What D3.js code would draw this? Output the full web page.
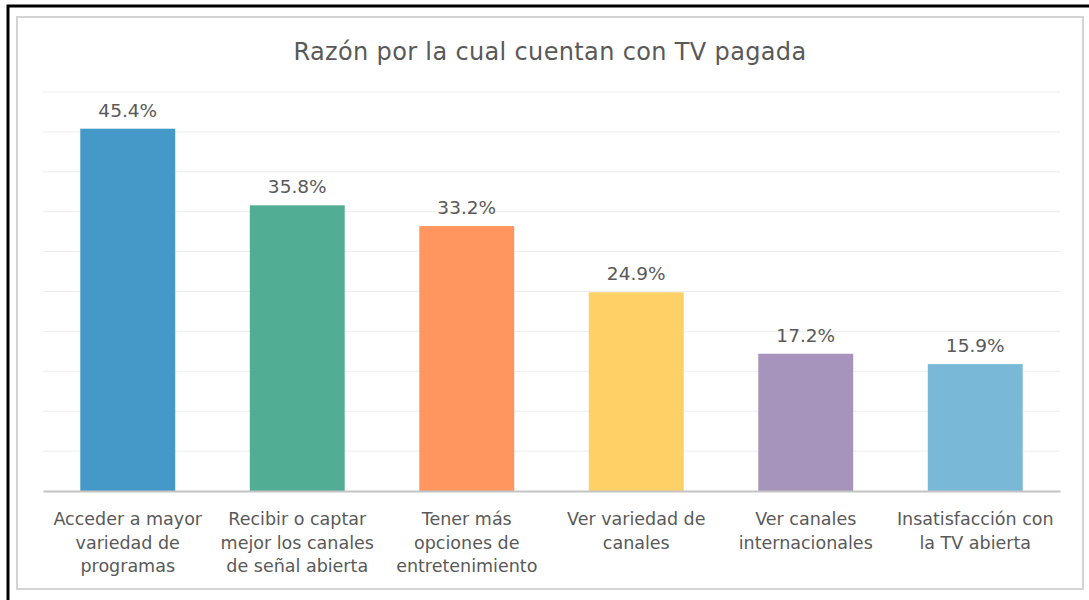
<!DOCTYPE html>
<html>
<head>
<meta charset="utf-8">
<script src="https://cdn.jsdelivr.net/npm/d3@7"></script>
<style>
  body { margin: 0; background: #fff; }
  svg { display: block; }
</style>
</head>
<body>
<div id="chart"></div>
<script>
// data
const categories = [
  ["Acceder a mayor", "variedad de", "programas"],
  ["Recibir o captar", "mejor los canales", "de señal abierta"],
  ["Tener más", "opciones de", "entretenimiento"],
  ["Ver variedad de", "canales"],
  ["Ver canales", "internacionales"],
  ["Insatisfacción con", "la TV abierta"]
];
const values = [45.4, 35.8, 33.2, 24.9, 17.2, 15.9];
const barColors = ["#4499C9", "#52AD95", "#FF9660", "#FDD166", "#A794BC", "#7AB8D8"];
const yTicks = [0, 5, 10, 15, 20, 25, 30, 35, 40, 45, 50];
const title = "Razón por la cual cuentan con TV pagada";

const width = 1089, height = 600;
const plot = { left: 43, right: 1060, top: 92, bottom: 491 };
const fontFam = "'DejaVu Sans', sans-serif";
const textColor = "#595959";

const svg = d3.select("#chart").append("svg")
  .attr("width", width)
  .attr("height", height);

// outer frames
svg.append("path")
  .attr("d", `M8,${height} V6 H${width}`)
  .attr("fill", "none")
  .attr("stroke", "#000")
  .attr("stroke-width", 3);

svg.append("rect")
  .attr("x", 17).attr("y", 17)
  .attr("width", 1066).attr("height", 572)
  .attr("fill", "#fff")
  .attr("stroke", "#D4D4D4")
  .attr("stroke-width", 2);

// scales
const idx = d3.range(values.length);
const xScale = d3.scaleBand()
  .domain(idx)
  .range([plot.left, plot.right])
  .paddingInner(0.44)
  .paddingOuter(0.22);

const yScale = d3.scaleLinear()
  .domain([0, 50])
  .range([plot.bottom, plot.top]);

// gridlines
svg.append("g")
  .selectAll("line")
  .data(yTicks.slice(1))
  .join("line")
  .attr("x1", plot.left).attr("x2", plot.right)
  .attr("y1", d => yScale(d)).attr("y2", d => yScale(d))
  .attr("stroke", "#EDEDED")
  .attr("stroke-width", 1);

// bars
svg.append("g")
  .selectAll("rect")
  .data(idx)
  .join("rect")
  .attr("x", i => xScale(i))
  .attr("y", i => yScale(values[i]))
  .attr("width", xScale.bandwidth())
  .attr("height", i => yScale(0) - yScale(values[i]))
  .attr("fill", i => barColors[i]);

// baseline axis
const xAxis = svg.append("g")
  .attr("transform", `translate(0,${plot.bottom})`)
  .call(d3.axisBottom(xScale).tickSize(0).tickFormat(""));
xAxis.select(".domain")
  .attr("stroke", "#C4C4C4")
  .attr("stroke-width", 2);

// value labels
svg.append("g")
  .selectAll("text")
  .data(idx)
  .join("text")
  .attr("x", i => xScale(i) + xScale.bandwidth() / 2)
  .attr("y", i => yScale(values[i]) - 12)
  .attr("text-anchor", "middle")
  .attr("font-family", fontFam)
  .attr("font-size", 18.5)
  .attr("fill", textColor)
  .text(i => values[i].toFixed(1) + "%");

// category labels
const cat = svg.append("g")
  .selectAll("text")
  .data(idx)
  .join("text")
  .attr("x", i => xScale(i) + xScale.bandwidth() / 2)
  .attr("y", 525)
  .attr("text-anchor", "middle")
  .attr("font-family", fontFam)
  .attr("font-size", 17.5)
  .attr("fill", textColor);

cat.selectAll("tspan")
  .data(i => categories[i].map(l => ({ l, i })))
  .join("tspan")
  .attr("x", d => xScale(d.i) + xScale.bandwidth() / 2)
  .attr("dy", (d, j) => j === 0 ? 0 : 23.5)
  .text(d => d.l);

// title
svg.append("text")
  .attr("x", 550)
  .attr("y", 60)
  .attr("text-anchor", "middle")
  .attr("font-family", fontFam)
  .attr("font-size", 24)
  .attr("letter-spacing", 0.35)
  .attr("fill", textColor)
  .text(title);
</script>
</body>
</html>
